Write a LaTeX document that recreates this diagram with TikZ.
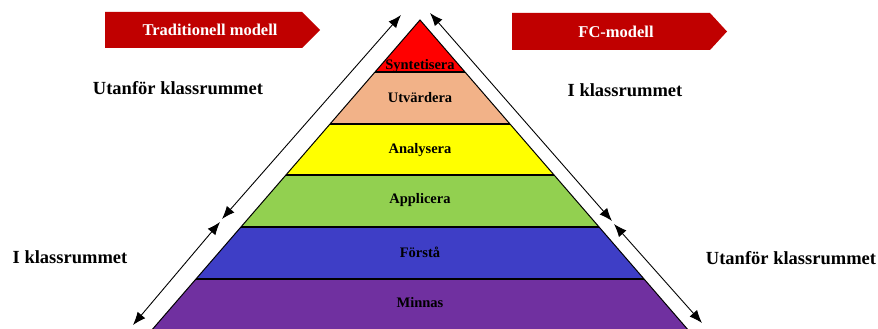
\documentclass[tikz,border=0pt]{standalone}
\usepackage{fontspec}
\setmainfont{Liberation Serif}
\usetikzlibrary{arrows.meta}

\definecolor{bannerred}{RGB}{192,0,0}
\definecolor{syncol}{RGB}{255,0,0}
\definecolor{utvcol}{RGB}{242,178,136}
\definecolor{anacol}{RGB}{255,255,0}
\definecolor{appcol}{RGB}{146,208,80}
\definecolor{forcol}{RGB}{62,62,198}
\definecolor{mincol}{RGB}{112,48,160}

\tikzset{
  bandtext/.style={font=\bfseries\fontsize{14.5}{16}\selectfont, inner sep=0pt},
  sidetext/.style={font=\bfseries\fontsize{18.5}{21}\selectfont, inner sep=0pt},
  bannertext/.style={text=white, font=\bfseries\fontsize{16.5}{19}\selectfont, inner sep=0pt},
  twoway/.style={line width=0.9pt, {Latex[length=13pt,width=10pt]}-{Latex[length=13pt,width=10pt]}}
}

\begin{document}
\begin{tikzpicture}[x=1pt,y=-1pt]
\useasboundingbox (0,0) rectangle (878,329);

\begin{scope}
\clip (0,0) rectangle (878,329);
% pyramid bands
\fill [syncol] (420,20) -- (465,72) -- (375,72) -- cycle;
\fill [utvcol] (375,72) -- (465,72) -- (510,124) -- (330,124) -- cycle;
\fill [anacol] (330,124) -- (510,124) -- (554.1,175) -- (285.9,175) -- cycle;
\fill [appcol] (285.9,175) -- (554.1,175) -- (599.1,227) -- (240.9,227) -- cycle;
\fill [forcol] (240.9,227) -- (599.1,227) -- (644,279) -- (196,279) -- cycle;
\fill [mincol] (196,279) -- (644,279) -- (696.8,340) -- (143.2,340) -- cycle;

\draw [line width=1.5pt] (375,72) -- (465,72);
\draw [line width=1.5pt] (330,124) -- (510,124);
\draw [line width=1.5pt] (285.9,175) -- (554.1,175);
\draw [line width=1.5pt] (240.9,227) -- (599.1,227);
\draw [line width=1.5pt] (196,279) -- (644,279);
\draw [line width=1pt, line join=miter] (143.2,340) -- (420,20) -- (696.8,340);
\end{scope}

\node [bandtext] (syn) at (420,66) {Syntetisera};
\node [bandtext] (utv) at (420,98) {Utvärdera};
\node [bandtext] (ana) at (420,150) {Analysera};
\node [bandtext] (app) at (420,200) {Applicera};
\node [bandtext] (for) at (420,252) {Förstå};
\node [bandtext] (min) at (420,303) {Minnas};

% banners
\fill [bannerred] (105,12) -- (302,12) -- (320,30) -- (302,48) -- (105,48) -- cycle;
\node [bannertext] (trad) at (210,30) {Traditionell modell};
\fill [bannerred] (512,13) -- (710,13) -- (727,31.5) -- (710,50) -- (512,50) -- cycle;
\node [bannertext] (fc) at (616,31.5) {FC-modell};

% side labels
\node [sidetext] (lout) at (178,88) {Utanför klassrummet};
\node [sidetext] (lin) at (70,257) {I klassrummet};
\node [sidetext] (rin) at (625,90) {I klassrummet};
\node [sidetext] (rout) at (791,258) {Utanför klassrummet};

% arrows along the sides
\coordinate (ltop) at (401,15);
\coordinate (lmidA) at (222,219);
\coordinate (lmidB) at (220,222);
\coordinate (lbot) at (133,325);
\coordinate (rtop) at (430,13);
\coordinate (rmidA) at (612,221);
\coordinate (rmidB) at (614,224);
\coordinate (rbot) at (702,323);

\draw [twoway] (lmidA) -- (ltop);
\draw [twoway] (lmidB) -- (lbot);
\draw [twoway] (rtop) -- (rmidA);
\draw [twoway] (rmidB) -- (rbot);

\end{tikzpicture}
\end{document}
